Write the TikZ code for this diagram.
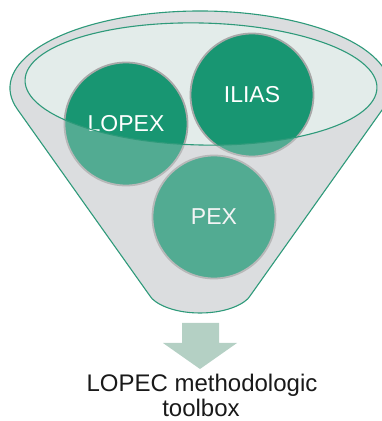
\documentclass[tikz,border=0pt]{standalone}
\usepackage{fontspec}
\setmainfont{Liberation Sans}
\definecolor{fgreen}{RGB}{24,150,114}
\definecolor{fline}{RGB}{46,154,122}
\definecolor{fbody}{RGB}{219,221,223}
\definecolor{finner}{RGB}{227,236,234}
\definecolor{farrow}{RGB}{180,208,196}
\definecolor{cborder}{RGB}{168,168,168}
\def\funnelpath{(200,333) ++(196.06:190 and 77) arc[start angle=196.06, end angle=-16.06, x radius=190, y radius=77] -- (250,125) .. controls (246,118) and (228,108) .. (200,108) .. controls (172,108) and (154,118) .. (150,125) -- cycle}
\tikzset{
  ball/.style={circle, minimum size=123pt, inner sep=0pt, fill=fgreen, draw=cborder, line width=1.8pt, text=white, font=\fontsize{23}{23}\selectfont},
  rim/.style={draw=fline, line width=1.1pt},
  caption/.style={anchor=base, font=\fontsize{24}{25}\selectfont, text=black!90}
}
\begin{document}
\begin{tikzpicture}[x=1pt,y=1pt]
\useasboundingbox (0,0) rectangle (382,421);
% funnel body
\fill[fbody] \funnelpath;
\fill[finner, rotate around={-1.3:(201,337)}] (201,337) ellipse[x radius=176, y radius=61];
% balls
\node[ball] (lopex) at (126,297) {LOPEX};
\node[ball] (ilias) at (252,326) {ILIAS};
\node[ball] (pex) at (214,204) {PEX};
% translucent front of funnel
\begin{scope}
\clip \funnelpath;
\fill[fbody, fill opacity=0.3, even odd rule, rotate around={-1.3:(201,337)}] (201,337) ellipse[x radius=176, y radius=61] (-500,-500) rectangle (900,900);
\end{scope}
% outlines
\draw[rim, rotate around={-1.3:(201,337)}] (201,337) ellipse[x radius=176, y radius=61];
\draw[rim, line join=round] \funnelpath;
% arrow
\fill[farrow] (182,98) -- (219,98) -- (219,78) -- (237,78) -- (200,52) -- (163,78) -- (182,78) -- cycle;
% caption
\node[caption] (cap1) at (202,29) {LOPEC methodologic};
\node[caption] (cap2) at (201,5) {toolbox};
\end{tikzpicture}
\end{document}
